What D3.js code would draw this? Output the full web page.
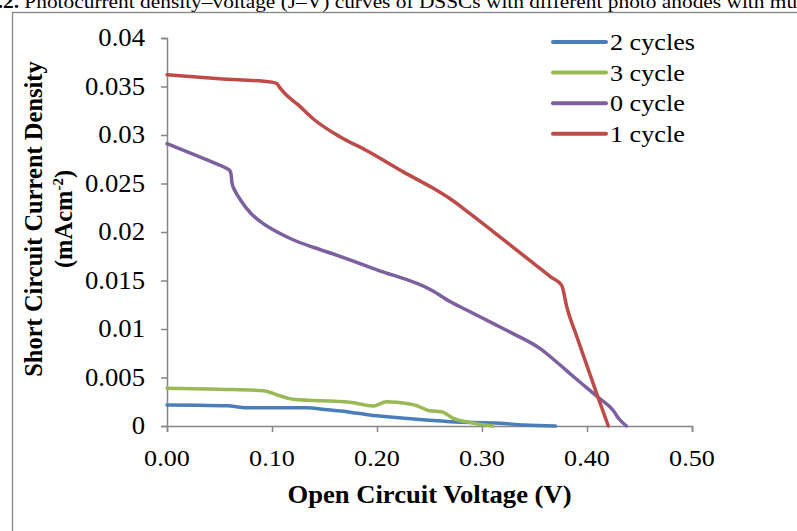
<!DOCTYPE html>
<html>
<head>
<meta charset="utf-8">
<script src="https://cdn.jsdelivr.net/npm/d3@7"></script>
<style>
  body { margin: 0; background: #fff; }
  text { font-family: "Liberation Serif", "Times New Roman", serif; fill: #000; }
</style>
</head>
<body>
<div id="chart"></div>
<script>
var svgWidth = 797;
var svgHeight = 531;

// plot area in pixels
var margin = { top: 38, left: 167, right: 105, bottom: 105 };
var width = 692 - margin.left;
var height = 426 - margin.top;

// the picture looks a bit stretched sideways
var sx = 1.09;

// Data: [voltage V, current density mA/cm2]
var seriesNames = ["2 cycles", "3 cycle", "0 cycle", "1 cycle"];
var seriesColors = ["#4A7EBB", "#98B954", "#7D60A0", "#BE4B48"];

var twoCycles = [
  [0, 0.00216], [0.03, 0.00213], [0.057, 0.0021], [0.076, 0.00189], [0.1, 0.00189],
  [0.133, 0.00189], [0.15, 0.0017], [0.171, 0.00148], [0.193, 0.00113], [0.215, 0.0009],
  [0.238, 0.00069], [0.27, 0.00044], [0.317, 0.00028], [0.34, 0.0001], [0.37, 0]
];
var threeCycle = [
  [0, 0.0039], [0.05, 0.00378], [0.092, 0.00364], [0.105, 0.0032], [0.12, 0.00275],
  [0.174, 0.00244], [0.1965, 0.00206], [0.209, 0.0025], [0.219, 0.00244], [0.238, 0.00209],
  [0.25, 0.00158], [0.2615, 0.00147], [0.2727, 0.00079], [0.2886, 0.00036], [0.31, 0]
];
var zeroCycle = [
  [0, 0.0291], [0.03, 0.0278], [0.05, 0.0269], [0.056, 0.0266], [0.06, 0.0263],
  [0.0612, 0.0258], [0.0618, 0.0251], [0.065, 0.0242], [0.07, 0.0233], [0.08, 0.0219],
  [0.09, 0.021], [0.105, 0.02], [0.12, 0.0192], [0.14, 0.0184], [0.162, 0.0176],
  [0.2, 0.0161], [0.252, 0.014], [0.27, 0.0128], [0.29, 0.0117], [0.31, 0.0106],
  [0.33, 0.0095], [0.355, 0.008], [0.37, 0.0067], [0.387, 0.0051], [0.41, 0.003],
  [0.425, 0.0016], [0.43, 0.0008], [0.4375, 0]
];
var oneCycle = [
  [0, 0.0362], [0.05, 0.0358], [0.1, 0.03545], [0.1045, 0.0353], [0.108, 0.0348],
  [0.112, 0.0343], [0.125, 0.0331], [0.14, 0.0316], [0.165, 0.0298], [0.19, 0.0284],
  [0.203, 0.0276], [0.225, 0.0262], [0.2536, 0.0245], [0.27, 0.0234], [0.2886, 0.0219],
  [0.31, 0.0201], [0.33, 0.0184], [0.35, 0.0167], [0.365, 0.0154], [0.3759, 0.0145],
  [0.3807, 0.0123], [0.39, 0.0093], [0.40, 0.0062], [0.41, 0.0031], [0.4203, 0]
];
var allSeries = [twoCycles, threeCycle, zeroCycle, oneCycle];

var xTicks = [0, 0.1, 0.2, 0.3, 0.4, 0.5];
var xTickLabels = ["0.00", "0.10", "0.20", "0.30", "0.40", "0.50"];
var yTicks = [0, 0.005, 0.01, 0.015, 0.02, 0.025, 0.03, 0.035, 0.04];
var yTickLabels = ["0", "0.005", "0.01", "0.015", "0.02", "0.025", "0.03", "0.035", "0.04"];

var svg = d3.select("#chart")
  .append("svg")
  .attr("width", svgWidth)
  .attr("height", svgHeight);

// caption of the figure, cut off at the top and at the sides
var caption = svg.append("text")
  .attr("transform", "translate(-32, 8) scale(" + sx + ",1)")
  .attr("font-size", "19.6px");
caption.append("tspan").attr("font-weight", "bold").text("Fig.2.");
caption.append("tspan").text(" Photocurrent density\u2013voltage (J\u2013V) curves of DSSCs with different photo anodes with multiple cycles");

// chart frame
svg.append("rect")
  .attr("x", 12.5)
  .attr("y", 12.5)
  .attr("width", 900)
  .attr("height", 700)
  .attr("fill", "none")
  .attr("stroke", "#868686")
  .attr("stroke-width", 1.3);

var chartGroup = svg.append("g")
  .attr("transform", `translate(${margin.left}, ${margin.top})`);

var xScale = d3.scaleLinear().domain([0, 0.5]).range([0, width]);
var yScale = d3.scaleLinear().domain([0, 0.04]).range([height, 0]);

var bottomAxis = d3.axisBottom(xScale).tickValues(xTicks).tickSize(6).tickFormat("");
var leftAxis = d3.axisLeft(yScale).tickValues(yTicks).tickSize(6).tickFormat("");

var gx = chartGroup.append("g")
  .attr("transform", `translate(0, ${height})`)
  .call(bottomAxis);
var gy = chartGroup.append("g").call(leftAxis);

[gx, gy].forEach(function(g) {
  g.select(".domain").attr("stroke", "#868686").attr("stroke-width", 1.5);
  g.selectAll(".tick line").attr("stroke", "#868686").attr("stroke-width", 1.5);
});

// tick labels
chartGroup.selectAll(".xlab")
  .data(xTicks)
  .enter()
  .append("text")
  .attr("class", "xlab")
  .attr("transform", function(d) { return `translate(${xScale(d)}, ${height + 40}) scale(${sx},1)`; })
  .attr("text-anchor", "middle")
  .attr("font-size", "24px")
  .text(function(d, i) { return xTickLabels[i]; });

chartGroup.selectAll(".ylab")
  .data(yTicks)
  .enter()
  .append("text")
  .attr("class", "ylab")
  .attr("transform", function(d) { return `translate(-22, ${yScale(d) + 8}) scale(${sx},1)`; })
  .attr("text-anchor", "end")
  .attr("font-size", "24.5px")
  .text(function(d, i) { return yTickLabels[i]; });

// curves
var line = d3.line()
  .x(function(d) { return xScale(d[0]); })
  .y(function(d) { return yScale(d[1]); })
  .curve(d3.curveMonotoneX);

chartGroup.selectAll(".curve")
  .data(allSeries)
  .enter()
  .append("path")
  .attr("class", "curve")
  .attr("d", line)
  .attr("fill", "none")
  .attr("stroke", function(d, i) { return seriesColors[i]; })
  .attr("stroke-width", 3.5)
  .attr("stroke-linejoin", "round")
  .attr("stroke-linecap", "round");

// legend
var legend = svg.append("g").attr("transform", "translate(553, 42)");
var rows = legend.selectAll(".row")
  .data(seriesNames)
  .enter()
  .append("g")
  .attr("class", "row")
  .attr("transform", function(d, i) { return `translate(0, ${i * 30.6})`; });

rows.append("line")
  .attr("x1", 0)
  .attr("x2", 53)
  .attr("stroke", function(d, i) { return seriesColors[i]; })
  .attr("stroke-width", 4)
  .attr("stroke-linecap", "round");

rows.append("text")
  .attr("transform", `translate(57, 8) scale(${sx},1)`)
  .attr("font-size", "24px")
  .text(function(d) { return d; });

// axis titles
svg.append("text")
  .attr("transform", `translate(${margin.left + width / 2}, 503) scale(1.065,1)`)
  .attr("text-anchor", "middle")
  .attr("font-size", "25px")
  .attr("font-weight", "bold")
  .text("Open Circuit Voltage (V)");

var yTitle = svg.append("text")
  .attr("transform", "translate(42, 219) rotate(-90)")
  .attr("text-anchor", "middle")
  .attr("font-size", "24.5px")
  .attr("font-weight", "bold");
yTitle.append("tspan")
  .attr("x", 0)
  .attr("dy", 0)
  .text("Short Circuit Current Density");
var unitLine = yTitle.append("tspan")
  .attr("x", 0)
  .attr("dy", 30);
unitLine.append("tspan").text("(mAcm");
unitLine.append("tspan").attr("font-size", "15px").attr("dy", -9).text("-2");
unitLine.append("tspan").attr("dy", 9).text(")");
</script>
</body>
</html>
